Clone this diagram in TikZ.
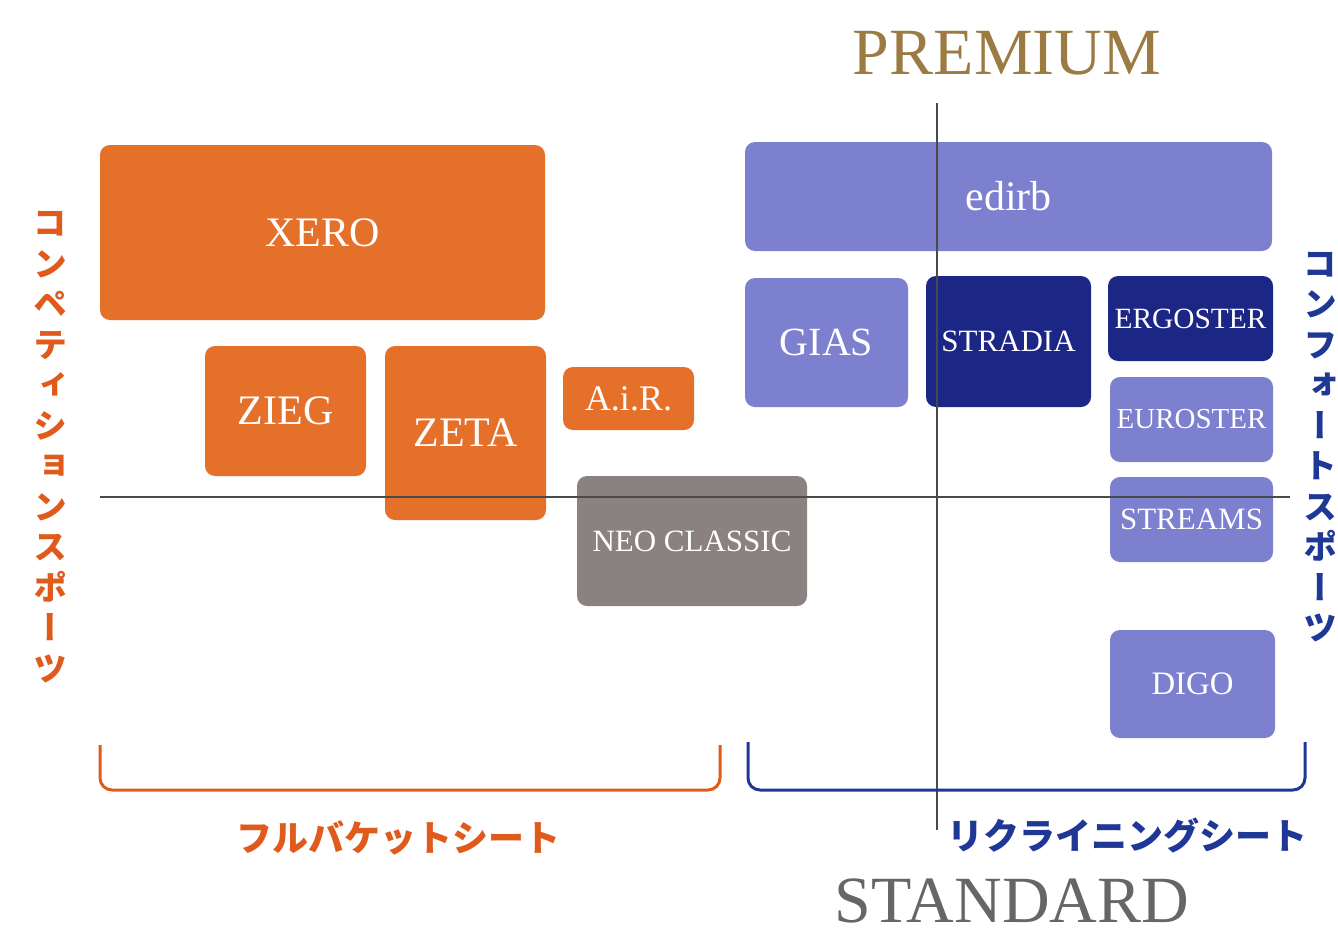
\documentclass[tikz,border=0pt]{standalone}
\usepackage{fontspec}
\usepackage{graphicx}
\setmainfont{Liberation Serif}
\newfontfamily\jpfont{Noto Sans CJK JP}
\newfontfamily\jpvfont[RawFeature=+vert]{Noto Sans CJK JP}

\definecolor{bucketorange}{HTML}{E5702A}
\definecolor{reclineblue}{HTML}{7D80CF}
\definecolor{navyseat}{HTML}{1B2685}
\definecolor{neogray}{HTML}{8A8181}
\definecolor{axisgray}{HTML}{4A4A4A}
\definecolor{labelorange}{HTML}{E05A1C}
\definecolor{labelblue}{HTML}{1F3795}
\definecolor{premiumgold}{HTML}{9B7B42}
\definecolor{standardgray}{HTML}{666666}

\tikzset{
  seat/.style={rounded corners=5pt, inner sep=0pt, outer sep=0pt,
    text=white, font=\fontsize{21}{21}\selectfont},
  bucket/.style={seat, fill=bucketorange},
  recline/.style={seat, fill=reclineblue},
  topseat/.style={seat, fill=navyseat},
  smalltext/.style={font=\fontsize{15.5}{16}\selectfont},
  axis/.style={draw=axisgray, line width=0.8pt},
  bracket/.style={line width=1.5pt, rounded corners=6pt},
  jplabel/.style={font=\jpfont\bfseries\fontsize{18}{18}\selectfont},
  vlabel/.style={align=center, inner sep=0pt,
    font=\jpvfont\bfseries\fontsize{17}{20.25}\selectfont},
  gradelabel/.style={inner sep=0pt, font=\fontsize{33}{33}\selectfont}
}

\begin{document}
\begin{tikzpicture}[x=0.5pt, y=-0.5pt]
  \useasboundingbox (0,0) rectangle (1338,937);

  % full bucket seats
  \node[bucket, minimum width=222.5pt, minimum height=87.5pt] (xero) at (322.5,232.5) {XERO};
  \node[bucket, minimum width=80.5pt, minimum height=65pt] (zieg) at (285.5,411) {ZIEG};
  \node[bucket, minimum width=80.5pt, minimum height=87pt] (zeta) at (465.5,433) {ZETA};
  \node[bucket, minimum width=65.5pt, minimum height=31.5pt, font=\fontsize{18}{18}\selectfont] (air) at (628.5,398.5) {A.i.R.};
  \node[seat, smalltext, fill=neogray, minimum width=115pt, minimum height=65pt] (neo) at (692,541) {NEO CLASSIC};

  % reclining seats
  \node[recline, minimum width=263.5pt, minimum height=54.5pt] (edirb) at (1008.5,196.5) {edirb};
  \node[recline, minimum width=81.5pt, minimum height=64.5pt, font=\fontsize{20}{20}\selectfont] (gias) at (826.5,342.5) {GIAS};
  \node[topseat, smalltext, minimum width=82.5pt, minimum height=65.5pt] (stradia) at (1008.5,341.5) {STRADIA};
  \node[topseat, minimum width=82.5pt, minimum height=42.5pt, font=\fontsize{14.7}{15}\selectfont] (ergoster) at (1190.5,318.5) {ERGOSTER};
  \node[recline, minimum width=81.5pt, minimum height=42.5pt, font=\fontsize{14.5}{15}\selectfont] (euroster) at (1191.5,419.5) {EUROSTER};
  \node[recline, smalltext, minimum width=81.5pt, minimum height=42.5pt] (streams) at (1191.5,519.5) {STREAMS};
  \node[recline, minimum width=82.5pt, minimum height=54pt, font=\fontsize{16.4}{17}\selectfont] (digo) at (1192.5,684) {DIGO};

  % axes
  \coordinate (hleft) at (100,497);
  \coordinate (hright) at (1290,497);
  \coordinate (vtop) at (937,103);
  \coordinate (vbottom) at (937,830);
  \draw[axis] (hleft) -- (hright);
  \draw[axis] (vtop) -- (vbottom);

  % brackets
  \coordinate (obl) at (100,745);
  \coordinate (obr) at (720,790);
  \coordinate (obe) at (720,745);
  \coordinate (rbl) at (748,742);
  \coordinate (rbr) at (1305,790);
  \coordinate (rbe) at (1305,742);
  \draw[bracket, labelorange] (obl) |- (obr) -- (obe);
  \draw[bracket, labelblue] (rbl) |- (rbr) -- (rbe);

  % labels
  \node[jplabel, text=labelorange] (fullbucket) at (398,838) {フルバケットシート};
  \node[jplabel, text=labelblue] (reclining) at (1127,835) {リクライニングシート};
  \node[vlabel, text=labelorange] (competition) at (50,447) {コ\\ン\\ペ\\テ\\ィ\\シ\\ョ\\ン\\ス\\ポ\\ー\\ツ};
  \node[vlabel, text=labelblue] (comfort) at (1320,447) {コ\\ン\\フ\\ォ\\ー\\ト\\ス\\ポ\\ー\\ツ};
  \node[gradelabel, text=premiumgold] (premium) at (1007,53) {PREMIUM};
  \node[gradelabel, text=standardgray] (standard) at (1012,901) {STANDARD};

\end{tikzpicture}
\end{document}
